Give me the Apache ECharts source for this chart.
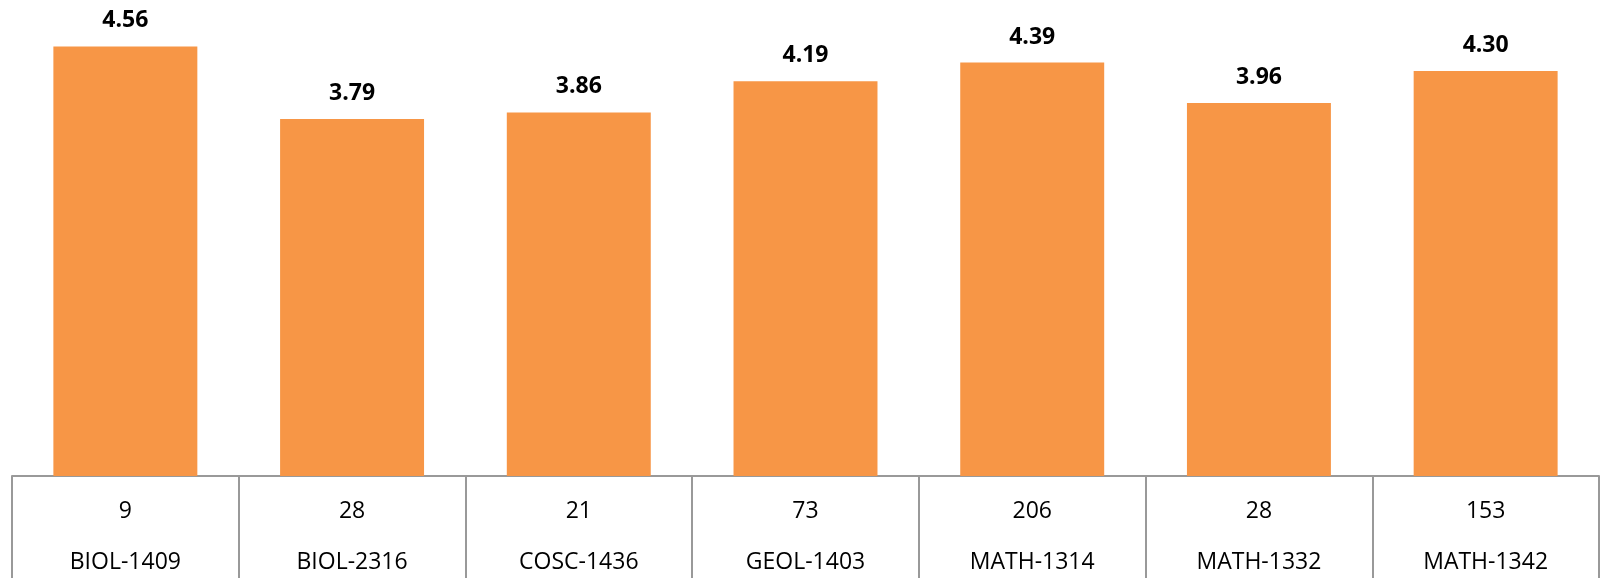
<!DOCTYPE html>
<html>
<head>
<meta charset="utf-8">
<script src="https://cdn.jsdelivr.net/npm/echarts@6/dist/echarts.min.js"></script>
<style>html,body{margin:0;padding:0;background:#fff}#c{width:1600px;height:588px}</style>
</head>
<body>
<div id="c"></div>
<script>
const courses = ['BIOL-1409','BIOL-2316','COSC-1436','GEOL-1403','MATH-1314','MATH-1332','MATH-1342'];
const counts = [9, 28, 21, 73, 206, 28, 153];
const scores = [4.56, 3.79, 3.86, 4.19, 4.39, 3.96, 4.30];

const chart = echarts.init(document.getElementById('c'));
chart.setOption({
  animation: false,
  grid: {left: 12, right: 1, top: 5, bottom: 102},
  xAxis: {
    type: 'category',
    data: courses.map((c, i) => counts[i] + '\n' + c),
    boundaryGap: true,
    axisLine: {lineStyle: {color: '#999', width: 2}},
    axisTick: {show: true, length: 102, lineStyle: {color: '#999', width: 2}},
    axisLabel: {
      margin: 10,
      interval: 0,
      color: '#000',
      fontFamily: 'Open Sans',
      fontSize: 23,
      lineHeight: 51
    }
  },
  yAxis: {type: 'value', min: 0, max: 5, show: false},
  series: [{
    type: 'bar',
    data: scores,
    barWidth: '63.5%',
    itemStyle: {color: '#F79646'},
    label: {
      show: true,
      position: 'top',
      distance: 14,
      color: '#000',
      fontWeight: 'bold',
      fontFamily: 'Open Sans',
      fontSize: 23,
      formatter: p => p.value.toFixed(2)
    }
  }]
});
</script>
</body>
</html>
